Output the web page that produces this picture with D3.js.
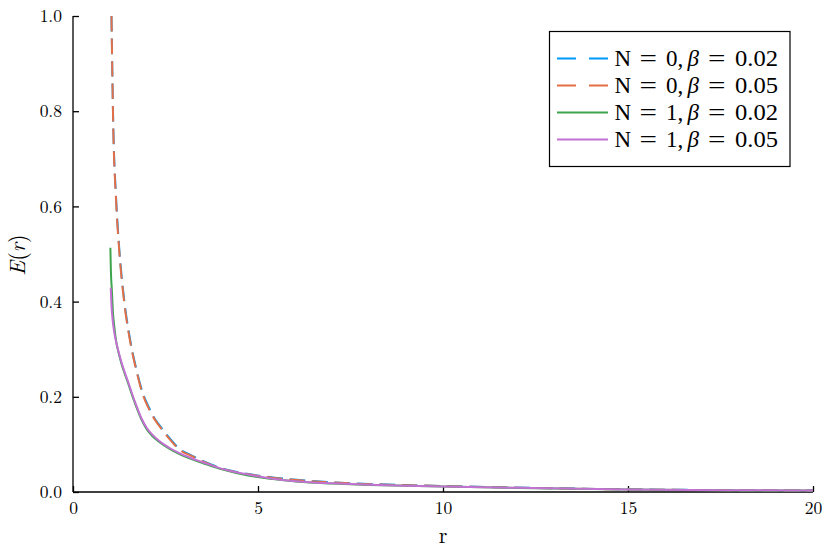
<!DOCTYPE html>
<html>
<head>
<meta charset="utf-8">
<script src="https://cdn.jsdelivr.net/npm/d3@7"></script>
<style>
  body { margin: 0; background: #fff; }
  svg { display: block; }
</style>
</head>
<body>
<svg id="chart" width="830" height="554"></svg>
<script>
// ---- data ----
const xTicks = [0, 5, 10, 15, 20];
const yTicks = [0.0, 0.2, 0.4, 0.6, 0.8, 1.0];

// N = 0 (dashed) curves
const rN0 = [1.04, 1.09, 1.16, 1.25, 1.38, 1.54, 1.7, 1.89, 2.05, 2.22, 2.35, 2.6, 2.89, 3.2, 3.43, 3.7, 3.97, 4.51, 5.24, 6.05, 7, 8, 9, 10, 12, 15, 17.5, 20];
const eN0b002 = [1.0, 0.765, 0.625, 0.512, 0.406, 0.322, 0.262, 0.207, 0.178, 0.153, 0.139, 0.114, 0.090, 0.077, 0.068, 0.059, 0.051, 0.041, 0.032, 0.0255, 0.0205, 0.017, 0.0145, 0.0127, 0.0093, 0.0056, 0.0041, 0.0031];
const eN0b005 = [1.0, 0.758, 0.618, 0.506, 0.401, 0.318, 0.259, 0.204, 0.175, 0.151, 0.137, 0.112, 0.088, 0.076, 0.067, 0.058, 0.050, 0.040, 0.0315, 0.025, 0.020, 0.0165, 0.0143, 0.0125, 0.0091, 0.0054, 0.0040, 0.0030];

// N = 1 (solid) curves
const rN1b002 = [1.01, 1.025, 1.05, 1.08, 1.12, 1.17, 1.24, 1.32, 1.41, 1.5, 1.63, 1.75, 1.85, 2.0, 2.15, 2.35, 2.6, 2.89, 3.2, 3.5, 4.05, 4.7, 5.4, 6.1, 7, 8, 9, 10, 12, 15, 17.5, 20];
const eN1b002 = [0.513, 0.462, 0.425, 0.377, 0.345, 0.315, 0.290, 0.267, 0.246, 0.226, 0.196, 0.171, 0.152, 0.131, 0.117, 0.104, 0.091, 0.079, 0.069, 0.061, 0.047, 0.035, 0.0272, 0.0215, 0.0178, 0.0148, 0.0129, 0.0114, 0.0085, 0.0052, 0.0038, 0.0029];
const rN1b005 = [1.02, 1.04, 1.07, 1.11, 1.17, 1.24, 1.32, 1.41, 1.5, 1.63, 1.75, 1.85, 2.0, 2.15, 2.35, 2.6, 2.89, 3.2, 3.5, 4.05, 4.7, 5.4, 6.1, 7, 8, 9, 10, 12, 15, 17.5, 20];
const eN1b005 = [0.429, 0.392, 0.362, 0.338, 0.314, 0.292, 0.270, 0.249, 0.229, 0.199, 0.174, 0.155, 0.134, 0.120, 0.106, 0.093, 0.081, 0.071, 0.0625, 0.048, 0.037, 0.028, 0.0222, 0.0183, 0.0152, 0.0132, 0.0117, 0.0087, 0.0053, 0.0039, 0.0030];

const seriesN = ["0", "0", "1", "1"];
const seriesBetas = ["0.02", "0.05", "0.02", "0.05"];
const seriesColors = ["#009AFA", "#E36F47", "#3EA44E", "#C371D2"];
const seriesDashed = [true, true, false, false];

const series = [
  { r: rN0, e: eN0b002 },
  { r: rN0, e: eN0b005 },
  { r: rN1b002, e: eN1b002 },
  { r: rN1b005, e: eN1b005 }
].map((s, i) => ({
  pts: s.r.map((r, j) => [r, s.e[j]]),
  n: seriesN[i], beta: seriesBetas[i],
  color: seriesColors[i], dashed: seriesDashed[i]
}));

// ---- layout ----
const FONT = "'Latin Modern Roman', 'Liberation Serif', serif";
const LFONT = "'Liberation Serif', 'Times New Roman', serif";
const svg = d3.select("#chart");
const mLeft = 73, mRight = 813, mTop = 16, mBottom = 492;
const x = d3.scaleLinear().domain([0, 20]).range([mLeft, mRight]);
const y = d3.scaleLinear().domain([0, 1]).range([mBottom, mTop]);

svg.append("defs").append("clipPath").attr("id", "clip")
  .append("rect").attr("x", mLeft).attr("y", mTop - 1)
  .attr("width", mRight - mLeft).attr("height", mBottom - mTop + 1);

// axes
const xAxis = d3.axisBottom(x).tickValues(xTicks).tickSize(-6).tickPadding(10)
  .tickFormat(d3.format("d"));
const yAxis = d3.axisLeft(y).tickValues(yTicks).tickSize(-6).tickPadding(11)
  .tickFormat(d3.format(".1f"));

const gx = svg.append("g").attr("transform", `translate(0,${mBottom})`).call(xAxis);
const gy = svg.append("g").attr("transform", `translate(${mLeft},0)`).call(yAxis);
[gx, gy].forEach(g => {
  g.attr("font-family", null).attr("font-size", null);
  g.select(".domain").attr("stroke", "#000").attr("stroke-width", 1.3);
  g.selectAll(".tick line").attr("stroke", "#000").attr("stroke-width", 1.3);
  g.selectAll(".tick text").style("font-family", FONT)
    .style("font-size", "17.5px").attr("fill", "#000");
});
gx.select(".domain").attr("d", `M${mLeft},0H${mRight}`);
gy.select(".domain").attr("d", `M0,${mTop}V${mBottom}`);

// axis labels
svg.append("text").attr("x", (mLeft + mRight) / 2).attr("y", 543)
  .attr("text-anchor", "middle").style("font-family", FONT).style("font-size", "22px").text("r");
const yl = svg.append("text")
  .attr("transform", `translate(25,${(mTop + mBottom) / 2 + 1}) rotate(-90)`)
  .attr("text-anchor", "middle").style("font-family", FONT).style("font-size", "22px");
yl.append("tspan").attr("font-style", "italic").text("E");
yl.append("tspan").text("(");
yl.append("tspan").attr("font-style", "italic").text("r");
yl.append("tspan").text(")");

// curves
const line = d3.line().x(d => x(d[0])).y(d => y(d[1])).curve(d3.curveMonotoneX);
const plot = svg.append("g").attr("clip-path", "url(#clip)");
series.forEach(s => {
  plot.append("path").datum(s.pts)
    .attr("d", line)
    .attr("fill", "none")
    .attr("stroke", s.color)
    .attr("stroke-width", 2)
    .attr("stroke-dasharray", s.dashed ? "15.5,7" : null);
});

// legend
const lg = svg.append("g");
lg.append("rect").attr("x", 549.5).attr("y", 31.5).attr("width", 240.5).attr("height", 135)
  .attr("fill", "#fff").attr("stroke", "#000").attr("stroke-width", 1.2);
const segX = [614.5, 639.5, 666, 687.5, 708, 735];
series.forEach((s, i) => {
  const cy = 58.5 + i * 27;
  lg.append("line").attr("x1", 557).attr("x2", 608).attr("y1", cy).attr("y2", cy)
    .attr("stroke", s.color).attr("stroke-width", 2.2)
    .attr("stroke-dasharray", s.dashed ? "19,13" : null);
  const parts = [
    { t: "N", it: false, len: null },
    { t: "=", it: false, len: 17.5 },
    { t: s.n + ",", it: false, len: null },
    { t: "β", it: true, len: null },
    { t: "=", it: false, len: 17.5 },
    { t: s.beta, it: false, len: 43 }
  ];
  parts.forEach((p, k) => {
    const t = lg.append("text").attr("x", segX[k]).attr("y", cy + 7.5)
      .style("font-family", LFONT).style("font-size", "23px")
      .attr("font-style", p.it ? "italic" : null)
      .text(p.t);
    if (p.len) t.attr("textLength", p.len).attr("lengthAdjust", "spacingAndGlyphs");
  });
});
</script>
</body>
</html>
